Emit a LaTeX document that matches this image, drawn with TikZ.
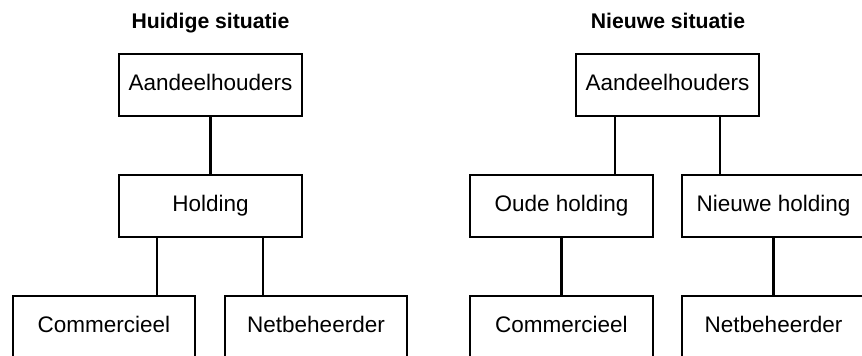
\documentclass[tikz,border=0pt]{standalone}
\usepackage{fontspec}
\setmainfont{Liberation Sans}
\begin{document}
\begin{tikzpicture}[x=1pt,y=1pt,
  orgbox/.style={draw=black, line width=2.8pt, fill=white, rectangle,
    minimum width=183pt, minimum height=62pt, inner sep=0pt,
    font=\fontsize{22.5}{26}\selectfont, text height=16pt, text depth=4.8pt},
  ttl/.style={font=\fontsize{21.2}{25}\selectfont\bfseries, inner sep=0pt, anchor=base},
  conn/.style={line width=2.8pt}]
\useasboundingbox (0,-356) rectangle (862,0);
\clip (0,-356) rectangle (862,0);
% titles
\node[ttl] (t1) at (210.5,-28.5) {Huidige situatie};
\node[ttl] (t2) at (668,-28.5) {Nieuwe situatie};
% left tree
\node[orgbox] (A1) at (210.5,-85) {Aandeelhouders};
\node[orgbox] (H1) at (210.5,-206) {Holding};
\node[orgbox, minimum width=182pt] (C1) at (104,-327) {Commercieel};
\node[orgbox, minimum width=182pt] (N1) at (316,-327) {Netbeheerder};
% right tree
\node[orgbox] (A2) at (667.5,-85) {Aandeelhouders};
\node[orgbox] (O2) at (561.5,-206) {Oude holding};
\node[orgbox] (NH2) at (773.5,-206) {Nieuwe holding};
\node[orgbox] (C2) at (561.5,-327) {Commercieel};
\node[orgbox] (N2) at (773.5,-327) {Netbeheerder};
% connectors
\draw[conn] (A1.south) -- (H1.north);
\draw[conn] ([xshift=-53.5pt]H1.south) -- ([xshift=-53.5pt]H1.south |- C1.north);
\draw[conn] ([xshift=52.5pt]H1.south) -- ([xshift=52.5pt]H1.south |- N1.north);
\draw[conn] ([xshift=-52.5pt]A2.south) -- ([xshift=-52.5pt]A2.south |- O2.north);
\draw[conn] ([xshift=52.5pt]A2.south) -- ([xshift=52.5pt]A2.south |- NH2.north);
\draw[conn] (O2.south) -- (C2.north);
\draw[conn] (NH2.south) -- (N2.north);
\end{tikzpicture}
\end{document}
